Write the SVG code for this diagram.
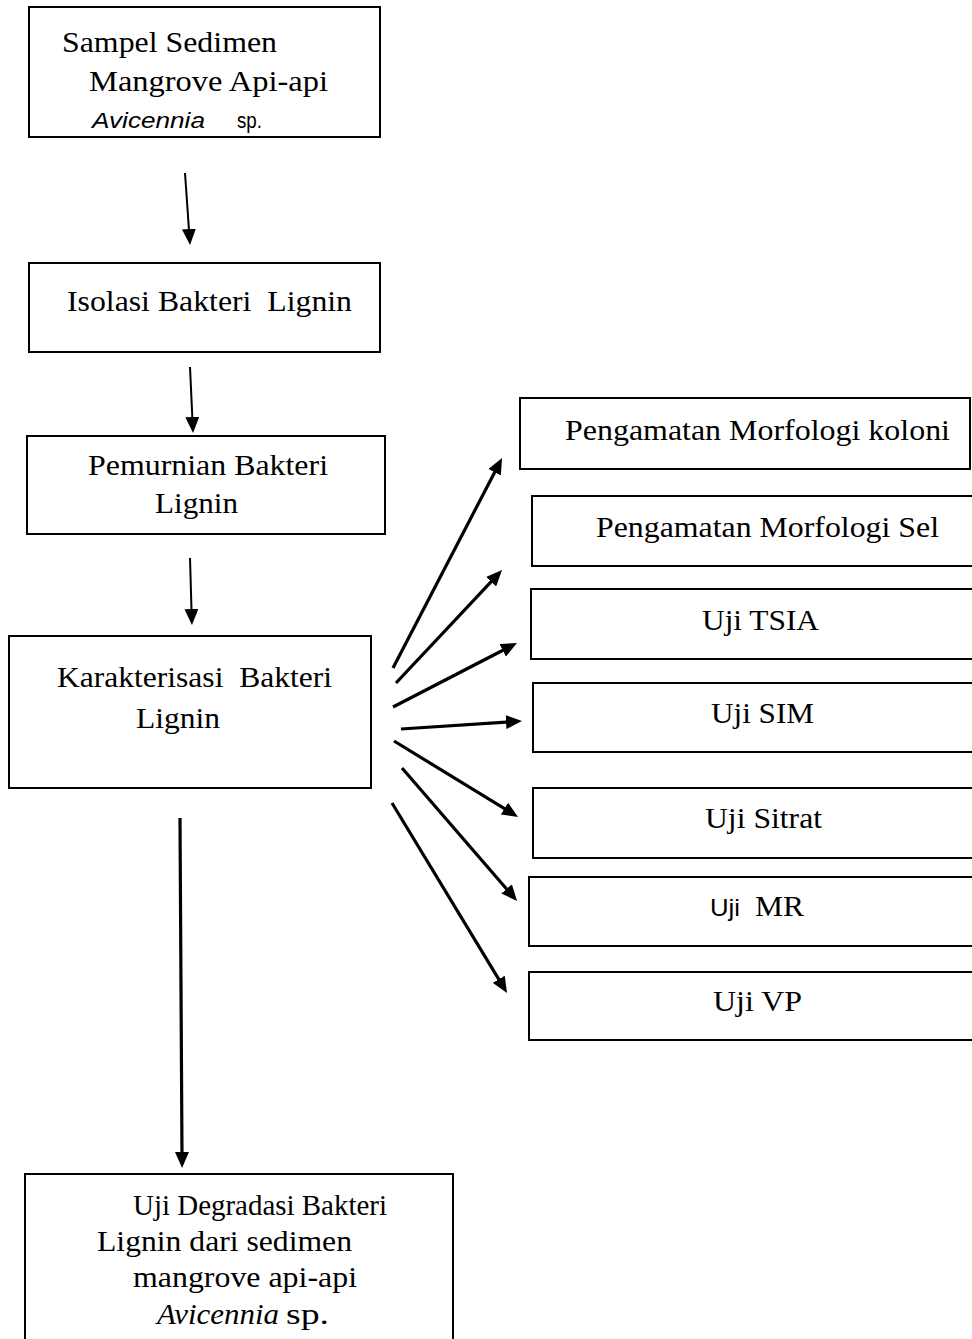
<svg xmlns="http://www.w3.org/2000/svg" width="972" height="1339" viewBox="0 0 972 1339">
  <style>
    .box { fill: #ffffff; stroke: #000000; stroke-width: 2; }
    .t { font-family: "Liberation Serif", "Times New Roman", serif; font-size: 30px; fill: #000000; white-space: pre; }
    .s { font-family: "Liberation Sans", Arial, sans-serif; fill: #000000; white-space: pre; }
    .thin { stroke: #000000; stroke-width: 2; fill: none; marker-end: url(#head); }
    .thick { stroke: #000000; stroke-width: 3.2; fill: none; marker-end: url(#head); }
  </style>
  <defs>
    <marker id="head" markerUnits="userSpaceOnUse" markerWidth="16" markerHeight="14" refX="4" refY="7" orient="auto" viewBox="0 0 16 14">
      <path d="M0,0 L16,7 L0,14 z" fill="#000000"/>
    </marker>
  </defs>
  <rect width="972" height="1339" fill="#ffffff"/>

  <!-- Flow nodes -->
  <g id="sampel">
    <rect class="box" x="29" y="7" width="351" height="130"/>
    <text class="t" x="62" y="52" textLength="215" lengthAdjust="spacingAndGlyphs">Sampel Sedimen</text>
    <text class="t" x="89" y="91" textLength="239" lengthAdjust="spacingAndGlyphs">Mangrove Api-api</text>
    <text class="s" x="92" y="128" font-size="22" font-style="italic" textLength="113" lengthAdjust="spacingAndGlyphs">Avicennia</text>
    <text class="s" x="237" y="128" font-size="22" textLength="25" lengthAdjust="spacingAndGlyphs">sp.</text>
  </g>

  <g id="isolasi">
    <rect class="box" x="29" y="263" width="351" height="89"/>
    <text class="t" x="67" y="311" textLength="285" lengthAdjust="spacingAndGlyphs">Isolasi Bakteri  Lignin</text>
  </g>

  <g id="pemurnian">
    <rect class="box" x="27" y="436" width="358" height="98"/>
    <text class="t" x="88" y="475" textLength="240" lengthAdjust="spacingAndGlyphs">Pemurnian Bakteri</text>
    <text class="t" x="155" y="513" textLength="83" lengthAdjust="spacingAndGlyphs">Lignin</text>
  </g>

  <g id="karakterisasi">
    <rect class="box" x="9" y="636" width="362" height="152"/>
    <text class="t" x="57" y="687" textLength="275" lengthAdjust="spacingAndGlyphs">Karakterisasi  Bakteri</text>
    <text class="t" x="136" y="728" textLength="84" lengthAdjust="spacingAndGlyphs">Lignin</text>
  </g>

  <g id="degradasi">
    <rect class="box" x="25" y="1174" width="428" height="180"/>
    <text class="t" x="133" y="1215" textLength="254" lengthAdjust="spacingAndGlyphs">Uji Degradasi Bakteri</text>
    <text class="t" x="97" y="1251" textLength="255" lengthAdjust="spacingAndGlyphs">Lignin dari sedimen</text>
    <text class="t" x="133" y="1287" textLength="224" lengthAdjust="spacingAndGlyphs">mangrove api-api</text>
    <text class="t" x="157" y="1324" font-style="italic" textLength="122" lengthAdjust="spacingAndGlyphs">Avicennia</text>
    <text class="t" x="286" y="1324" textLength="43" lengthAdjust="spacingAndGlyphs">sp.</text>
  </g>

  <!-- Characterisation tests -->
  <g id="morfologi-koloni">
    <rect class="box" x="520" y="398" width="450" height="71"/>
    <text class="t" x="565" y="440" textLength="385" lengthAdjust="spacingAndGlyphs">Pengamatan Morfologi koloni</text>
  </g>

  <g id="morfologi-sel">
    <rect class="box" x="532" y="496" width="450" height="70"/>
    <text class="t" x="596" y="537" textLength="343" lengthAdjust="spacingAndGlyphs">Pengamatan Morfologi Sel</text>
  </g>

  <g id="tsia">
    <rect class="box" x="531" y="589" width="450" height="70"/>
    <text class="t" x="702" y="630" textLength="117" lengthAdjust="spacingAndGlyphs">Uji TSIA</text>
  </g>

  <g id="sim">
    <rect class="box" x="533" y="683" width="450" height="69"/>
    <text class="t" x="711" y="723" textLength="103" lengthAdjust="spacingAndGlyphs">Uji SIM</text>
  </g>

  <g id="sitrat">
    <rect class="box" x="533" y="788" width="450" height="70"/>
    <text class="t" x="705" y="828" textLength="117" lengthAdjust="spacingAndGlyphs">Uji Sitrat</text>
  </g>

  <g id="mr">
    <rect class="box" x="529" y="877" width="450" height="69"/>
    <text class="s" x="710" y="916" font-size="24" textLength="30" lengthAdjust="spacingAndGlyphs">Uji</text>
    <text class="t" x="755" y="916" textLength="49" lengthAdjust="spacingAndGlyphs">MR</text>
  </g>

  <g id="vp">
    <rect class="box" x="529" y="972" width="450" height="68"/>
    <text class="t" x="713" y="1011" textLength="89" lengthAdjust="spacingAndGlyphs">Uji VP</text>
  </g>

  <!-- Connectors -->
  <g id="connectors">
    <line class="thin" x1="185" y1="173" x2="189.2" y2="233"/>
    <line class="thin" x1="190" y1="367" x2="192.5" y2="421"/>
    <line class="thin" x1="190" y1="558" x2="191.6" y2="613"/>
    <line class="thick" x1="180" y1="818" x2="182" y2="1156"/>

    <line class="thick" x1="393" y1="668" x2="496.5" y2="468.7"/>
    <line class="thick" x1="396" y1="683" x2="493.8" y2="578.8"/>
    <line class="thick" x1="393" y1="707" x2="506.3" y2="648.5"/>
    <line class="thick" x1="401" y1="729" x2="510" y2="721.8"/>
    <line class="thick" x1="394" y1="741" x2="507.8" y2="810.7"/>
    <line class="thick" x1="402" y1="768" x2="509.2" y2="891.9"/>
    <line class="thick" x1="392" y1="803" x2="500.8" y2="982.7"/>
  </g>
</svg>
